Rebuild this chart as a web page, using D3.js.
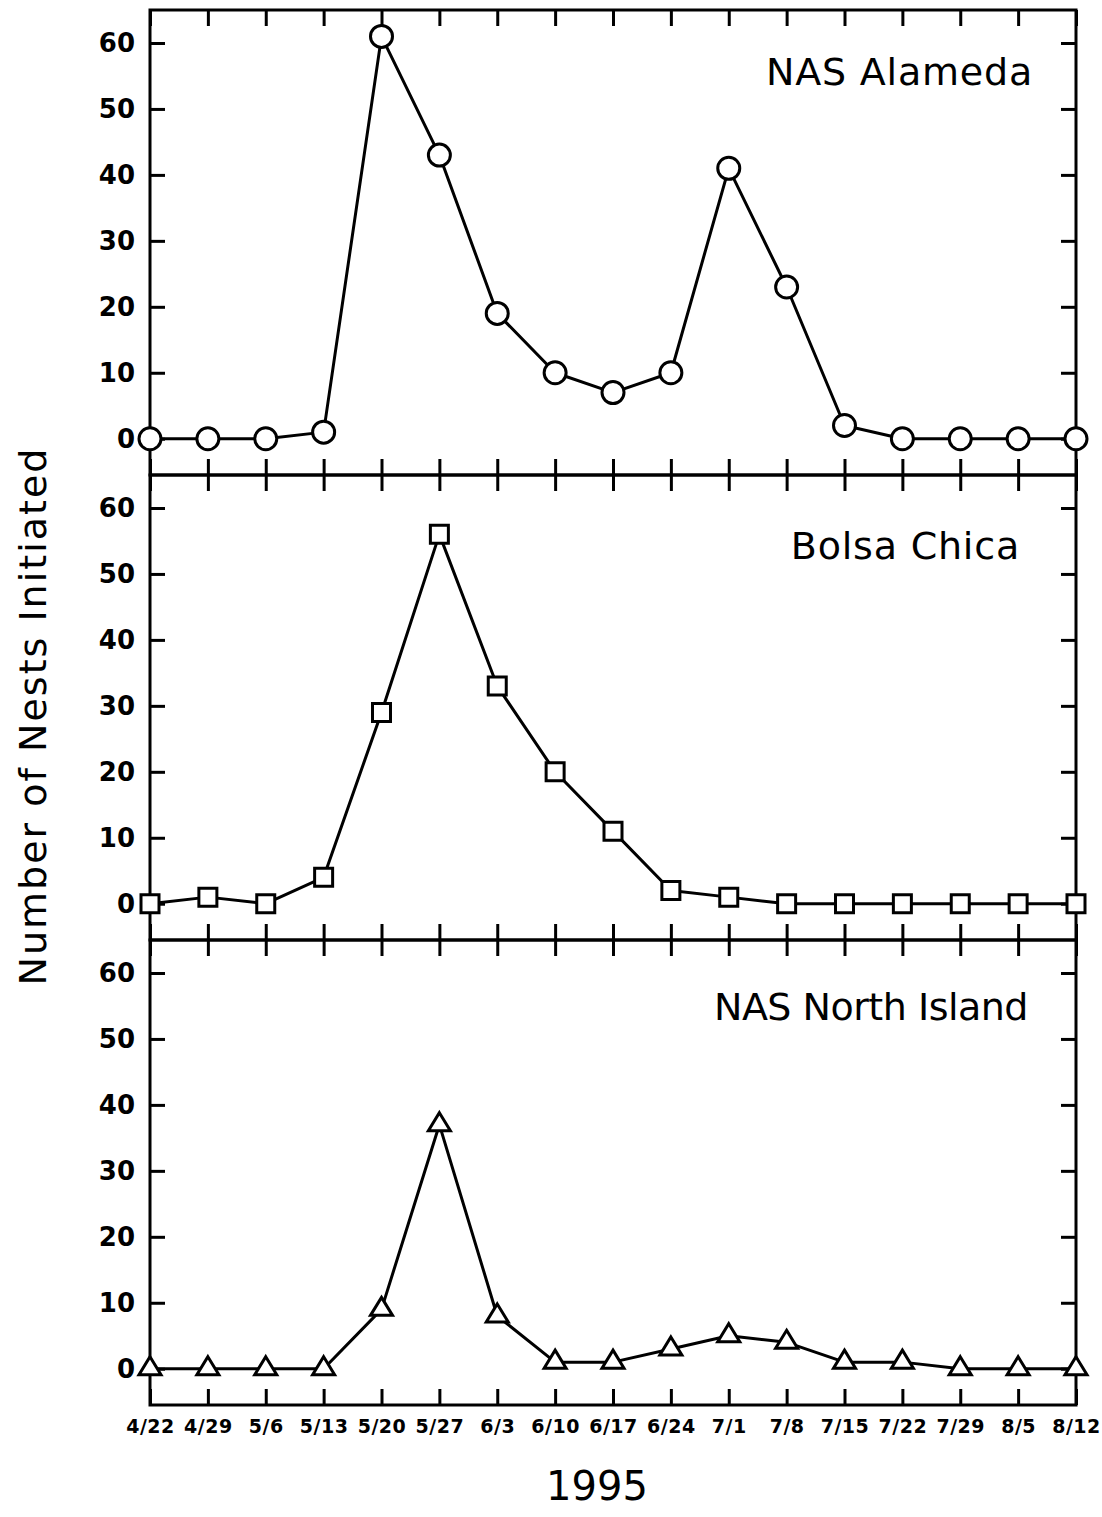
<!DOCTYPE html>
<html>
<head>
<meta charset="utf-8">
<script src="https://cdn.jsdelivr.net/npm/d3@7"></script>
<style>
  body { margin: 0; background: #fff; }
  svg { display: block; }
</style>
</head>
<body>
<div id="chart-wrapper"></div>
<script>
//////////////////////////////////////////////////
/////////////////// Data /////////////////////////
//////////////////////////////////////////////////

const dates = ['4/22', '4/29', '5/6', '5/13', '5/20', '5/27', '6/3', '6/10',
  '6/17', '6/24', '7/1', '7/8', '7/15', '7/22', '7/29', '8/5', '8/12']
const alameda = [0, 0, 0, 1, 61, 43, 19, 10, 7, 10, 41, 23, 2, 0, 0, 0, 0]
const bolsaChica = [0, 1, 0, 4, 29, 56, 33, 20, 11, 2, 1, 0, 0, 0, 0, 0, 0]
const northIsland = [0, 0, 0, 0, 9, 37, 8, 1, 1, 3, 5, 4, 1, 1, 0, 0, 0]
const yTicks = [0, 10, 20, 30, 40, 50, 60]

const panels = [
  {name: 'NAS Alameda', values: alameda, symbol: 'circle'},
  {name: 'Bolsa Chica', values: bolsaChica, symbol: 'square'},
  {name: 'NAS North Island', values: northIsland, symbol: 'triangle'},
]

//////////////////////////////////////////////////
/////////////////// Constants ////////////////////
//////////////////////////////////////////////////

const width = 1102
const height = 1517
const left = 150
const right = 1076
const top0 = 10
const panelHeight = 465
const ink = '#000'
const sans = '"DejaVu Sans", sans-serif'
// title placement per panel: [right end, baseline offset from panel top]
const titlePos = [[1033, 75], [1020, 84], [1028, 80]]

const svg = d3.select('#chart-wrapper')
  .append('svg')
    .attr('width', width)
    .attr('height', height)
const g = svg.append('g')

const xScale = d3.scalePoint()
  .domain(dates)
  .range([left, right])

// marker shapes
const markerPath = {
  circle: 'M11,0 A11,11 0 1,1 -11,0 A11,11 0 1,1 11,0 Z',
  square: 'M-9,-9 L9,-9 L9,9 L-9,9 Z',
  triangle: 'M0,-12 L11,6 L-11,6 Z',
}

panels.forEach((p, i) => {
  const pTop = top0 + i * panelHeight
  const pBottom = pTop + panelHeight
  const yScale = d3.scaleLinear()
    .domain([-5.5, 65])
    .range([pBottom, pTop])

  const pg = g.append('g').attr('class', 'panel')

  // axes (ticks point inward)
  pg.append('g')
    .attr('transform', `translate(${left}, 0)`)
    .call(d3.axisLeft(yScale).tickValues(yTicks).tickSize(-15).tickPadding(15))
    .call(g => g.select('.domain').remove())
    .call(g => g.selectAll('.tick line').attr('stroke', ink).attr('stroke-width', 3))
    .call(g => g.selectAll('.tick text')
      .attr('fill', ink)
      .style('font-family', sans)
      .style('font-size', '26px')
      .style('font-weight', 'bold'))

  pg.append('g')
    .attr('transform', `translate(${right}, 0)`)
    .call(d3.axisRight(yScale).tickValues(yTicks).tickSize(-15).tickFormat(''))
    .call(g => g.select('.domain').remove())
    .call(g => g.selectAll('.tick line').attr('stroke', ink).attr('stroke-width', 3))

  pg.append('g')
    .attr('transform', `translate(0, ${pTop})`)
    .call(d3.axisTop(xScale).tickSize(-16).tickFormat(''))
    .call(g => g.select('.domain').remove())
    .call(g => g.selectAll('.tick line').attr('stroke', ink).attr('stroke-width', 3))

  pg.append('g')
    .attr('transform', `translate(0, ${pBottom})`)
    .call(d3.axisBottom(xScale).tickSize(-16).tickPadding(15)
      .tickFormat(i === panels.length - 1 ? d => d : ''))
    .call(g => g.select('.domain').remove())
    .call(g => g.selectAll('.tick line').attr('stroke', ink).attr('stroke-width', 3))
    .call(g => g.selectAll('.tick text')
      .attr('fill', ink)
      .style('font-family', sans)
      .style('font-size', '19px')
      .style('font-weight', 'bold')
      .style('letter-spacing', '0.5px'))

  // frame
  pg.append('rect')
    .attr('x', left)
    .attr('y', pTop)
    .attr('width', right - left)
    .attr('height', panelHeight)
    .attr('fill', 'none')
    .attr('stroke', ink)
    .attr('stroke-width', 3)

  // line
  const line = d3.line()
    .x((d, j) => xScale(dates[j]))
    .y(d => yScale(d))

  pg.append('path')
    .datum(p.values)
    .attr('fill', 'none')
    .attr('stroke', ink)
    .attr('stroke-width', 3)
    .attr('stroke-linejoin', 'round')
    .attr('d', line)

  // markers
  pg.selectAll('.marker')
    .data(p.values)
    .join('path')
      .attr('class', 'marker')
      .attr('transform', (d, j) => `translate(${xScale(dates[j])}, ${yScale(d)})`)
      .attr('d', markerPath[p.symbol])
      .attr('fill', '#fff')
      .attr('stroke', ink)
      .attr('stroke-width', 3)

  // panel title
  pg.append('text')
    .attr('x', titlePos[i][0])
    .attr('y', pTop + titlePos[i][1])
    .attr('text-anchor', 'end')
    .style('font-family', sans)
    .style('font-size', '38px')
    .style('letter-spacing', i === 2 ? '-0.5px' : '0.8px')
    .attr('fill', ink)
    .text(p.name)
})

// axis titles
svg.append('text')
  .attr('transform', `translate(46, 716) rotate(-90)`)
  .attr('text-anchor', 'middle')
  .style('font-family', sans)
  .style('font-size', '38px')
  .style('letter-spacing', '2px')
  .attr('fill', ink)
  .text('Number of Nests Initiated')

svg.append('text')
  .attr('x', (left + right) / 2 - 16)
  .attr('y', 1500)
  .attr('text-anchor', 'middle')
  .style('font-family', sans)
  .style('font-size', '40px')
  .attr('fill', ink)
  .text('1995')
</script>
</body>
</html>
